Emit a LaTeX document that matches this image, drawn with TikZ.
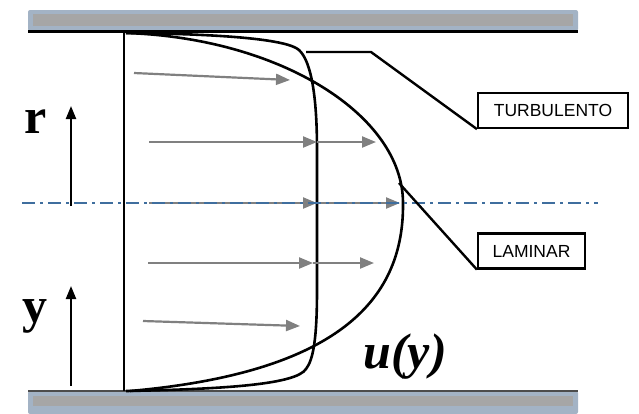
\documentclass[tikz,border=0pt]{standalone}
\usepackage{fontspec}
\setmainfont{Liberation Serif}
\newfontfamily\labelfont{Liberation Sans}
\usetikzlibrary{arrows.meta}
\definecolor{wallblue}{HTML}{A3B3C5}
\definecolor{wallgray}{HTML}{A6A6A6}
\definecolor{arrowgray}{HTML}{808080}
\definecolor{axisblue}{HTML}{3F6E9E}
\begin{document}
\begin{tikzpicture}[x=1pt,y=-1pt,
  wall/.style={fill=wallblue, rounded corners=2pt},
  wallcore/.style={fill=wallgray},
  profile/.style={line width=2.6pt, black},
  vel/.style={arrowgray, line width=2.2pt, -{Triangle[length=14pt,width=11pt]}},
  axisarrow/.style={black, line width=2.2pt, -{Triangle[length=13pt,width=10pt]}},
  centre/.style={axisblue, line width=1.5pt, dash pattern=on 13pt off 5pt on 3pt off 5pt},
  tag/.style={draw, line width=2.2pt, font=\labelfont\fontsize{17.5}{20}\selectfont, inner sep=0pt, minimum height=35pt},
  sym/.style={font=\bfseries\fontsize{50}{56}\selectfont, anchor=base, inner sep=0pt},
  leader/.style={line width=2.4pt}]
\useasboundingbox (0,0) rectangle (639,413);
% walls
\fill[wall] (28,10) rectangle (578,31);
\fill[wallcore] (33,14) rectangle (573,26);
\draw[line width=2.8pt] (28,31.5) -- (578,31.5);
\fill[wall] (28,391) rectangle (578,414);
\fill[wallcore] (33,396) rectangle (573,406);
\draw[line width=1.2pt, black!70] (28,391) -- (578,391);
% reference line
\draw[line width=2.4pt] (124,32) -- (124,391);
% turbulent profile
\draw[profile] (126,33) .. controls (230,34) and (288,40) .. (299,50)
  .. controls (312,62) and (317,100) .. (317,150) -- (317,290)
  .. controls (317,340) and (313,360) .. (306,369)
  .. controls (296,384) and (230,389) .. (126,391);
% laminar profile
\draw[profile] (126,33) .. controls (280,38) and (403,115) .. (403,203)
  .. controls (404,295) and (345,372) .. (130,391);
% velocity arrows
\coordinate (a1s) at (134,73); \coordinate (a1e) at (290,80);
\coordinate (a2s) at (149,142); \coordinate (a2m) at (317,142); \coordinate (a2e) at (376,142);
\coordinate (a3s) at (149,203); \coordinate (a3m) at (317,203); \coordinate (a3e) at (400,203);
\coordinate (a4s) at (148,263); \coordinate (a4m) at (313,263); \coordinate (a4e) at (374,263);
\coordinate (a5s) at (143,321); \coordinate (a5e) at (300,326);
\draw[vel] (a1s) -- (a1e);
\draw[vel] (a2s) -- (a2m);
\draw[vel] (a2m) -- (a2e);
\draw[vel] (a3s) -- (a3m);
\draw[vel] (a3m) -- (a3e);
\draw[vel] (a4s) -- (a4m);
\draw[vel] (a4m) -- (a4e);
\draw[vel] (a5s) -- (a5e);
% centre line
\coordinate (cl) at (22,203); \coordinate (cr) at (598,203);
\draw[centre] (cl) -- (cr);
% axis arrows
\coordinate (rs) at (71,206); \coordinate (re) at (71,106);
\coordinate (ys) at (71,386); \coordinate (ye) at (71,286);
\draw[axisarrow] (rs) -- (re);
\draw[axisarrow] (ys) -- (ye);
\node[sym] (r) at (36,133) {r};
\node[sym] (y) at (35,322) {y};
\node[sym, font=\bfseries\itshape\fontsize{50}{56}\selectfont] (u) at (405,368) {u(y)};
% labels
\node[tag, minimum width=150pt] (turb) at (553,110.5) {TURBULENTO};
\node[tag, minimum width=107pt] (lam) at (531.5,251) {LAMINAR};
\coordinate (tk) at (306,52); \coordinate (tb) at (371,52);
\draw[leader] (tk) -- (tb) -- (turb.south west);
\coordinate (lk) at (399,183);
\draw[leader] (lk) -- (lam.south west);
\end{tikzpicture}
\end{document}
